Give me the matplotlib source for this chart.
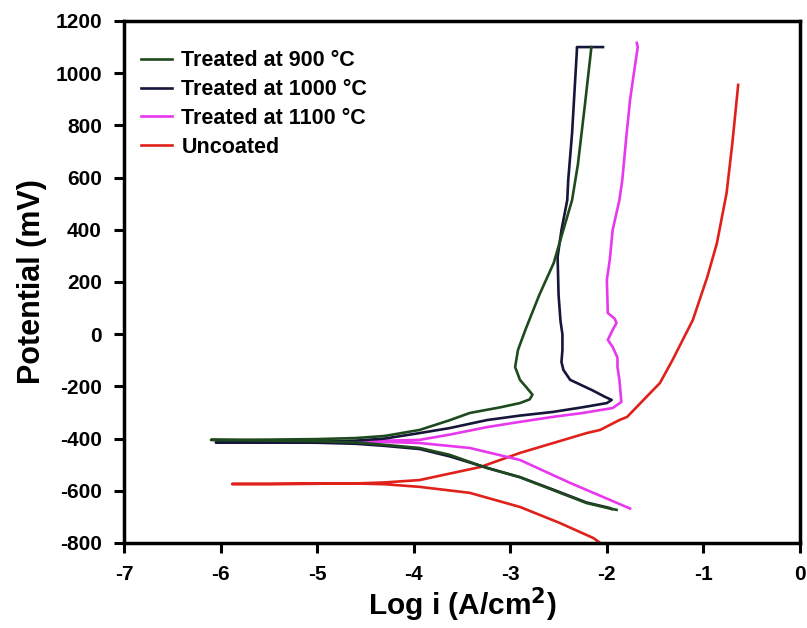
import matplotlib.pyplot as plt

plt.rcParams['font.family'] = ['Liberation Sans', 'DejaVu Sans']
plt.rcParams['font.weight'] = 'bold'
plt.rcParams['axes.unicode_minus'] = False

# Treated at 900 C
g_cath_x = [-6.1, -5.5, -5.0, -4.6, -4.3, -3.94, -3.63, -3.24, -2.9, -2.56, -2.21, -1.97, -1.9]
g_cath_y = [-405, -408, -410, -415, -424, -436, -462, -513, -548, -597, -647, -668, -673]
g_an_x = [-6.1, -5.5, -5.0, -4.6, -4.3, -3.94, -3.63, -3.42, -3.1, -2.90, -2.80, -2.77, -2.83, -2.90,
          -2.95, -2.92, -2.84, -2.70, -2.55, -2.45, -2.36, -2.30, -2.23, -2.16]
g_an_y = [-405, -404, -402, -398, -390, -367, -330, -302, -280, -264, -250, -232, -205, -175,
          -126, -60, 20, 150, 273, 400, 514, 650, 870, 1100]

# Treated at 1000 C
b_cath_x = [-6.05, -5.5, -5.0, -4.6, -4.3, -3.94, -3.63, -3.24, -2.9, -2.56, -2.21, -1.97, -1.95]
b_cath_y = [-415, -415, -416, -420, -428, -440, -468, -512, -548, -595, -645, -666, -670]
b_an_x = [-6.05, -5.5, -5.0, -4.6, -4.3, -3.94, -3.63, -3.24, -2.9, -2.56, -2.25, -2.0, -1.95,
          -2.02, -2.15, -2.38, -2.45, -2.47, -2.46, -2.46, -2.48, -2.50, -2.51, -2.47, -2.41,
          -2.40, -2.36, -2.31, -2.31, -2.04]
b_an_y = [-415, -414, -412, -408, -400, -379, -360, -329, -312, -298, -280, -264, -252,
          -240, -215, -175, -137, -107, -60, -1, 50, 150, 296, 399, 514,
          591, 771, 1089, 1100, 1100]

# Treated at 1100 C
m_cath_x = [-4.6, -4.3, -3.94, -3.42, -2.90, -2.38, -2.0, -1.76]
m_cath_y = [-410, -413, -417, -436, -482, -570, -630, -668]
m_an_x = [-4.6, -4.3, -3.94, -3.63, -3.24, -2.9, -2.56, -2.25, -1.94, -1.85, -1.87, -1.89,
          -1.89, -1.94, -1.99, -1.94, -1.90, -1.92, -1.99, -2.0, -1.97, -1.94, -1.87, -1.84,
          -1.80, -1.76, -1.72, -1.68, -1.69]
m_an_y = [-410, -408, -405, -385, -356, -336, -317, -302, -283, -260, -175, -126,
          -90, -49, -22, 16, 43, 60, 81, 208, 284, 399, 514, 591,
          750, 897, 1000, 1100, 1116]

# Uncoated
r_cath_x = [-5.88, -5.5, -5.0, -4.6, -4.3, -3.94, -3.42, -2.90, -2.49, -2.14, -2.05]
r_cath_y = [-574, -574, -573, -572, -575, -585, -608, -662, -723, -781, -805]
r_an_x = [-5.88, -5.5, -5.0, -4.6, -4.3, -3.94, -3.31, -2.90, -2.21, -2.07, -1.87, -1.79,
          -1.55, -1.45, -1.32, -1.11, -0.96, -0.86, -0.76, -0.70, -0.64]
r_an_y = [-574, -574, -573, -572, -568, -559, -509, -455, -379, -367, -329, -317,
          -225, -187, -99, 54, 219, 349, 541, 733, 955]

labels = ['Treated at 900 °C', 'Treated at 1000 °C', 'Treated at 1100 °C', 'Uncoated']
colors = ['#1e4a1e', '#16163a', '#e838ee', '#e0201a']


def join(cx, cy, ax_, ay):
    # cathodic branch reversed, then anodic branch
    return cx[::-1] + ax_[1:], cy[::-1] + ay[1:]


curves = [join(g_cath_x, g_cath_y, g_an_x, g_an_y),
          join(b_cath_x, b_cath_y, b_an_x, b_an_y),
          join(m_cath_x, m_cath_y, m_an_x, m_an_y),
          join(r_cath_x, r_cath_y, r_an_x, r_an_y)]

fig = plt.figure(figsize=(8.07, 6.28), dpi=100)
ax = fig.add_axes([0.1537, 0.1354, 0.8376, 0.8312])

handles = [None] * 4
for i in [3, 2, 1, 0]:
    x, y = curves[i]
    handles[i], = ax.plot(x, y, color=colors[i], lw=1.9, label=labels[i])

ax.set_xlim(-7, 0)
ax.set_ylim(-800, 1200)
ax.set_xticks(range(-7, 1))
ax.set_yticks(range(-800, 1201, 200))
ax.tick_params(direction='out', length=7, width=2.2, labelsize=15, pad=9)
for s in ax.spines.values():
    s.set_linewidth(2.5)

ax.set_xlabel('Log i (A/cm$^\\mathbf{2}$)', fontsize=21.5, fontweight='bold', labelpad=1)
ax.set_ylabel('Potential (mV)', fontsize=22, fontweight='bold', labelpad=6)

ax.legend(handles=handles, loc='upper left', frameon=False, fontsize=15.5,
          handlelength=1.4, handletextpad=0.45, labelspacing=0.36,
          borderaxespad=0.0, bbox_to_anchor=(0.013, 0.96))

fig.savefig('out.png', dpi=100)
